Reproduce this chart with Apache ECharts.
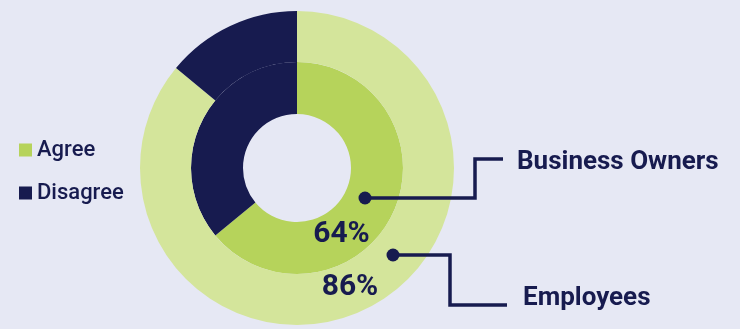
<!DOCTYPE html>
<html>
<head>
<meta charset="utf-8">
<script src="https://cdn.jsdelivr.net/npm/echarts@6/dist/echarts.min.js"></script>
<style>
html,body{margin:0;padding:0;background:#e6e8f4;}
#chart{width:740px;height:329px;}
</style>
</head>
<body>
<div id="chart"></div>
<script>
var categories = ['Agree', 'Disagree'];
var ownersValues = [64, 36];
var employeesValues = [86, 14];
var groupNames = ['Business Owners', 'Employees'];

var navy = '#171b4f';
var innerGreen = '#b6d35b';
var outerGreen = '#d4e59b';

var chart = echarts.init(document.getElementById('chart'));
var font = 'Roboto, "DejaVu Sans", sans-serif';

function pieData(values, agreeColor) {
  return categories.map(function (c, i) {
    return { name: c, value: values[i], itemStyle: { color: i === 0 ? agreeColor : navy } };
  });
}

chart.setOption({
  backgroundColor: '#e6e8f4',
  animation: false,
  legend: {
    orient: 'vertical',
    left: 14,
    top: 134,
    icon: 'rect',
    itemWidth: 13,
    itemHeight: 13,
    itemGap: 21,
    textStyle: { fontFamily: font, fontSize: 22, color: navy, fontWeight: 500 },
    data: [
      { name: categories[0], itemStyle: { color: innerGreen } },
      { name: categories[1], itemStyle: { color: navy } }
    ]
  },
  series: [
    {
      name: groupNames[0],
      type: 'pie',
      center: [297, 168],
      radius: [54, 106],
      startAngle: 90,
      clockwise: true,
      label: { show: false },
      labelLine: { show: false },
      itemStyle: { borderWidth: 0 },
      silent: true,
      z: 1,
      data: pieData(ownersValues, innerGreen)
    },
    {
      name: groupNames[1],
      type: 'pie',
      center: [297, 168],
      radius: [106, 157],
      startAngle: 90,
      clockwise: true,
      label: { show: false },
      labelLine: { show: false },
      itemStyle: { borderWidth: 0 },
      silent: true,
      z: 1,
      data: pieData(employeesValues, outerGreen)
    }
  ],
  graphic: {
    elements: [
      { type: 'group', z: 100, children: [
        { type: 'text', x: 341.5, y: 234, z: 100, style: { text: ownersValues[0] + '%', font: 'bold 30px ' + font, fill: navy, align: 'center', verticalAlign: 'middle' } },
        { type: 'text', x: 350, y: 287, z: 100, style: { text: employeesValues[0] + '%', font: 'bold 30px ' + font, fill: navy, align: 'center', verticalAlign: 'middle' } },
        { type: 'polyline', z: 100, shape: { points: [[365, 198], [475, 198], [475, 159], [503, 159]] }, style: { stroke: navy, lineWidth: 3.5, fill: null } },
        { type: 'circle', z: 101, shape: { cx: 365, cy: 198, r: 6.5 }, style: { fill: navy } },
        { type: 'polyline', z: 100, shape: { points: [[393, 255], [450, 255], [450, 305], [507, 305]] }, style: { stroke: navy, lineWidth: 3.5, fill: null } },
        { type: 'circle', z: 101, shape: { cx: 393, cy: 255, r: 6.5 }, style: { fill: navy } },
        { type: 'text', x: 517, y: 162, z: 100, style: { text: groupNames[0], font: 'bold 26px ' + font, fill: navy, align: 'left', verticalAlign: 'middle' } },
        { type: 'text', x: 523, y: 298, z: 100, style: { text: groupNames[1], font: 'bold 26px ' + font, fill: navy, align: 'left', verticalAlign: 'middle' } }
      ]}
    ]
  }
});
</script>
</body>
</html>
